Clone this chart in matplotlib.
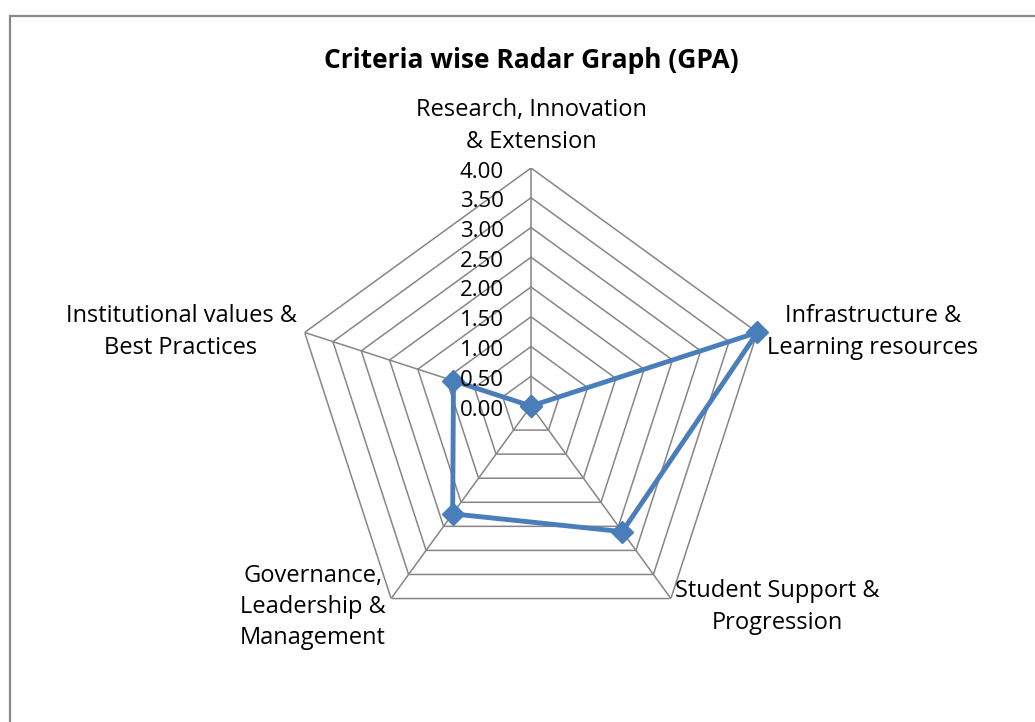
import numpy as np
import matplotlib.pyplot as plt
from matplotlib.patches import Rectangle

plt.rcParams['font.family'] = ['Open Sans', 'DejaVu Sans']

categories = ['Research, Innovation\n& Extension',
              'Infrastructure &\nLearning resources',
              'Student Support &\nProgression',
              'Governance,\nLeadership &\nManagement',
              'Institutional values &\nBest Practices']
gpa = [0.0, 4.0, 2.61, 2.24, 1.37]
ring_values = [0.5, 1.0, 1.5, 2.0, 2.5, 3.0, 3.5, 4.0]
tick_labels = ['0.00', '0.50', '1.00', '1.50', '2.00', '2.50', '3.00', '3.50', '4.00']

W, H = 1035, 722
fig = plt.figure(figsize=(W / 100, H / 100), dpi=100)

# outer chart frame (cut off at right and bottom)
fig.patches.append(Rectangle((9.5 / W, -0.1), 1.2, 1.1 - 15.5 / H, transform=fig.transFigure,
                             fill=False, edgecolor='#898989', linewidth=1.6))

ax = fig.add_axes([293 / W, 78 / H, 476 / W, 476 / H], projection='polar')
ax.set_theta_offset(np.pi / 2)
ax.set_theta_direction(-1)
ax.set_ylim(0, 4)
ax.grid(False)
ax.spines['polar'].set_visible(False)
ax.set_xticks([])
ax.set_yticks([])
ax.patch.set_alpha(0)

n = len(categories)
angles = np.linspace(0, 2 * np.pi, n, endpoint=False)
closed = np.concatenate([angles, angles[:1]])

grid_col = '#868686'
for rv in ring_values:
    ax.plot(closed, [rv] * (n + 1), color=grid_col, lw=1.1, zorder=1)
for a in angles:
    ax.plot([a, a], [0, 4], color=grid_col, lw=1.1, zorder=1)

vals = gpa + gpa[:1]
ax.plot(closed, vals, color='#4A7EBB', lw=3.5, marker='D', markersize=11,
        zorder=3, clip_on=False)

# value labels along the vertical axis
for i, lab in enumerate(tick_labels):
    ax.annotate(lab, xy=(0, i * 0.5), xytext=(-27, -4), textcoords='offset pixels',
                ha='right', va='center', fontsize=16, color='black',
                annotation_clip=False)

# category labels
label_pos = [(531, 126), (873, 332), (777, 607), (313, 607), (181, 332)]
for lab, (px, py) in zip(categories, label_pos):
    fig.text(px / W, 1 - py / H, lab, ha='center', va='center', fontsize=17,
             linespacing=1.4, color='black')

fig.text(531 / W, 1 - 60 / H, 'Criteria wise Radar Graph (GPA)', ha='center', va='center',
         fontsize=19, fontweight='bold')

fig.savefig('out.png', dpi=100, facecolor='white')
